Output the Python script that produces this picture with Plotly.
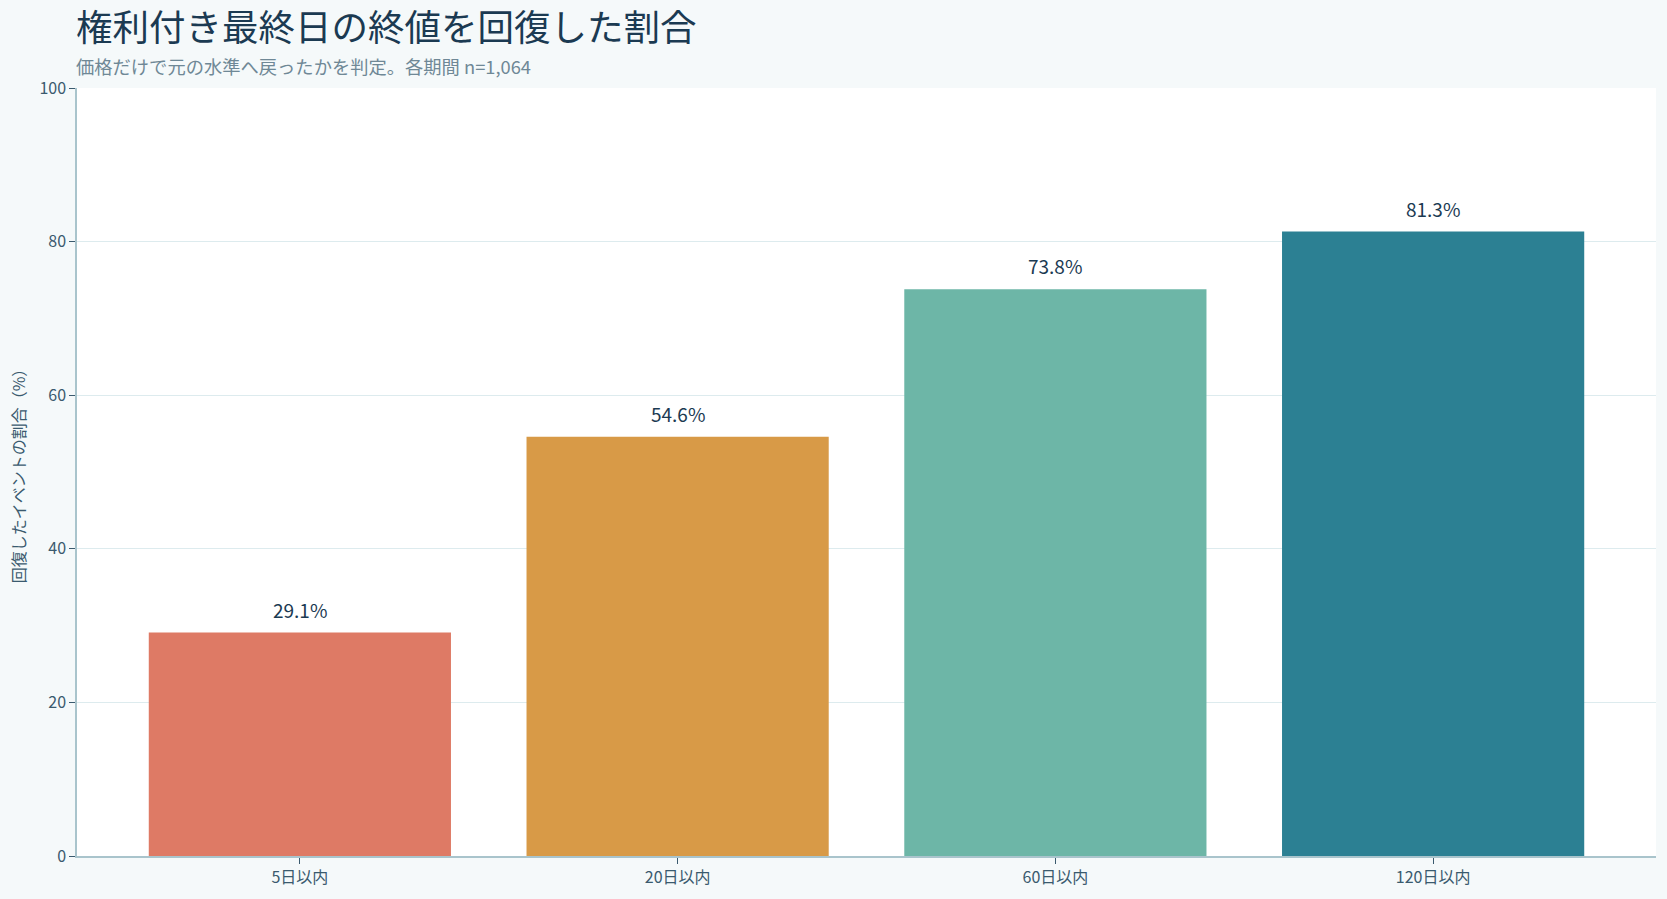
import plotly.graph_objects as go

categories = ["5日以内", "20日以内", "60日以内", "120日以内"]
values = [29.1, 54.6, 73.8, 81.3]
labels = ["29.1%", "54.6%", "73.8%", "81.3%"]
colors = ["#DE7A65", "#D89A47", "#6DB6A7", "#2C8093"]
y_ticks = [0, 20, 40, 60, 80, 100]

W, H = 1667, 899
FONT = "Noto Sans CJK JP"

fig = go.Figure()
fig.add_trace(go.Bar(
    x=categories, y=values, marker=dict(color=colors, line=dict(width=0)),
    hoverinfo="skip", showlegend=False,
))

for c, v, t in zip(categories, values, labels):
    fig.add_annotation(x=c, y=v, text=t, showarrow=False, xref="x", yref="y",
                       yanchor="bottom", yshift=8,
                       font=dict(family=FONT, size=19, color="#1B3A52"))

fig.add_annotation(xref="paper", yref="paper", x=0, xanchor="left",
                   y=1 + (88 - 66) / (H - 88 - 39), yanchor="middle",
                   text="価格だけで元の水準へ戻ったかを判定。各期間 n=1,064",
                   showarrow=False, xshift=-3,
                   font=dict(family=FONT, size=18.3, color="#6F8896"))

fig.update_layout(
    width=W, height=H,
    margin=dict(l=77, r=11, t=88, b=39),
    paper_bgcolor="#F5F9FA", plot_bgcolor="#FFFFFF",
    font=dict(family=FONT, color="#3A5A6E"),
    title=dict(text="権利付き最終日の終値を回復した割合", xref="container",
               x=76 / W, xanchor="left", y=1 - 28 / H, yanchor="middle",
               font=dict(family=FONT, size=36.5, color="#1B3A52")),
    bargap=0.2,
    xaxis=dict(showline=True, linecolor="#A9C4CC", linewidth=1.5,
               range=[-0.59, 3.59],
               ticks="outside", ticklen=6, tickcolor="#3A5A6E",
               tickfont=dict(size=16, color="#3A5A6E"), showgrid=False),
    yaxis=dict(range=[0, 100], tickvals=y_ticks, showline=True,
               linecolor="#A9C4CC", linewidth=1.5, ticks="outside",
               ticklen=6, tickcolor="#3A5A6E",
               tickfont=dict(size=16, color="#3A5A6E"),
               gridcolor="#DDEBEE", gridwidth=1, zeroline=False,
               title=dict(text="回復したイベントの割合（%）",
                          font=dict(size=16, color="#3A5A6E"), standoff=10)),
)

fig.write_html("out.html")
